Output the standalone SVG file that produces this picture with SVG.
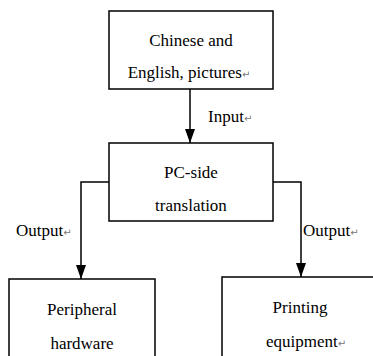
<svg xmlns="http://www.w3.org/2000/svg" width="373" height="356" viewBox="0 0 373 356">
<style>
.box{fill:#fff;stroke:#000;stroke-width:1.5}
.t{font-family:"Liberation Serif","Times New Roman",serif;font-size:17px;fill:#000}
.c{text-anchor:middle}
.rm{font-family:"DejaVu Sans",sans-serif;font-size:10px;fill:#777}
.ln{fill:none;stroke:#000;stroke-width:1.5}
</style>
<defs>
<marker id="ah" viewBox="0 0 14 10" refX="14" refY="5" markerWidth="14" markerHeight="10" markerUnits="userSpaceOnUse" orient="auto">
<path d="M0,0 L14,5 L0,10 Z" fill="#000"/>
</marker>
</defs>
<rect width="373" height="356" fill="#fff"/>
<g id="connectors">
<path class="ln" d="M190,89 V143" marker-end="url(#ah)"/>
<path class="ln" d="M109,182 H81 V279" marker-end="url(#ah)"/>
<path class="ln" d="M273,182 H301 V277" marker-end="url(#ah)"/>
<text class="t" x="208" y="122">Input<tspan class="rm">↵</tspan></text>
<text class="t" x="16" y="236">Output<tspan class="rm">↵</tspan></text>
<text class="t" x="303" y="236">Output<tspan class="rm">↵</tspan></text>
</g>
<g id="node-input">
<rect class="box" x="109" y="11" width="164" height="78"/>
<text class="t c" x="191" y="46">Chinese and</text>
<text class="t c" x="189" y="78">English, pictures<tspan class="rm">↵</tspan></text>
</g>
<g id="node-pc">
<rect class="box" x="109" y="143" width="164" height="78"/>
<text class="t c" x="191" y="178">PC-side</text>
<text class="t c" x="191" y="211">translation</text>
</g>
<g id="node-peripheral">
<rect class="box" x="9" y="279" width="146" height="90"/>
<text class="t c" x="82" y="315">Peripheral</text>
<text class="t c" x="82" y="349">hardware</text>
</g>
<g id="node-printing">
<rect class="box" x="222" y="277" width="160" height="90"/>
<text class="t c" x="300" y="313">Printing</text>
<text class="t c" x="306" y="347">equipment<tspan class="rm">↵</tspan></text>
</g>
</svg>
